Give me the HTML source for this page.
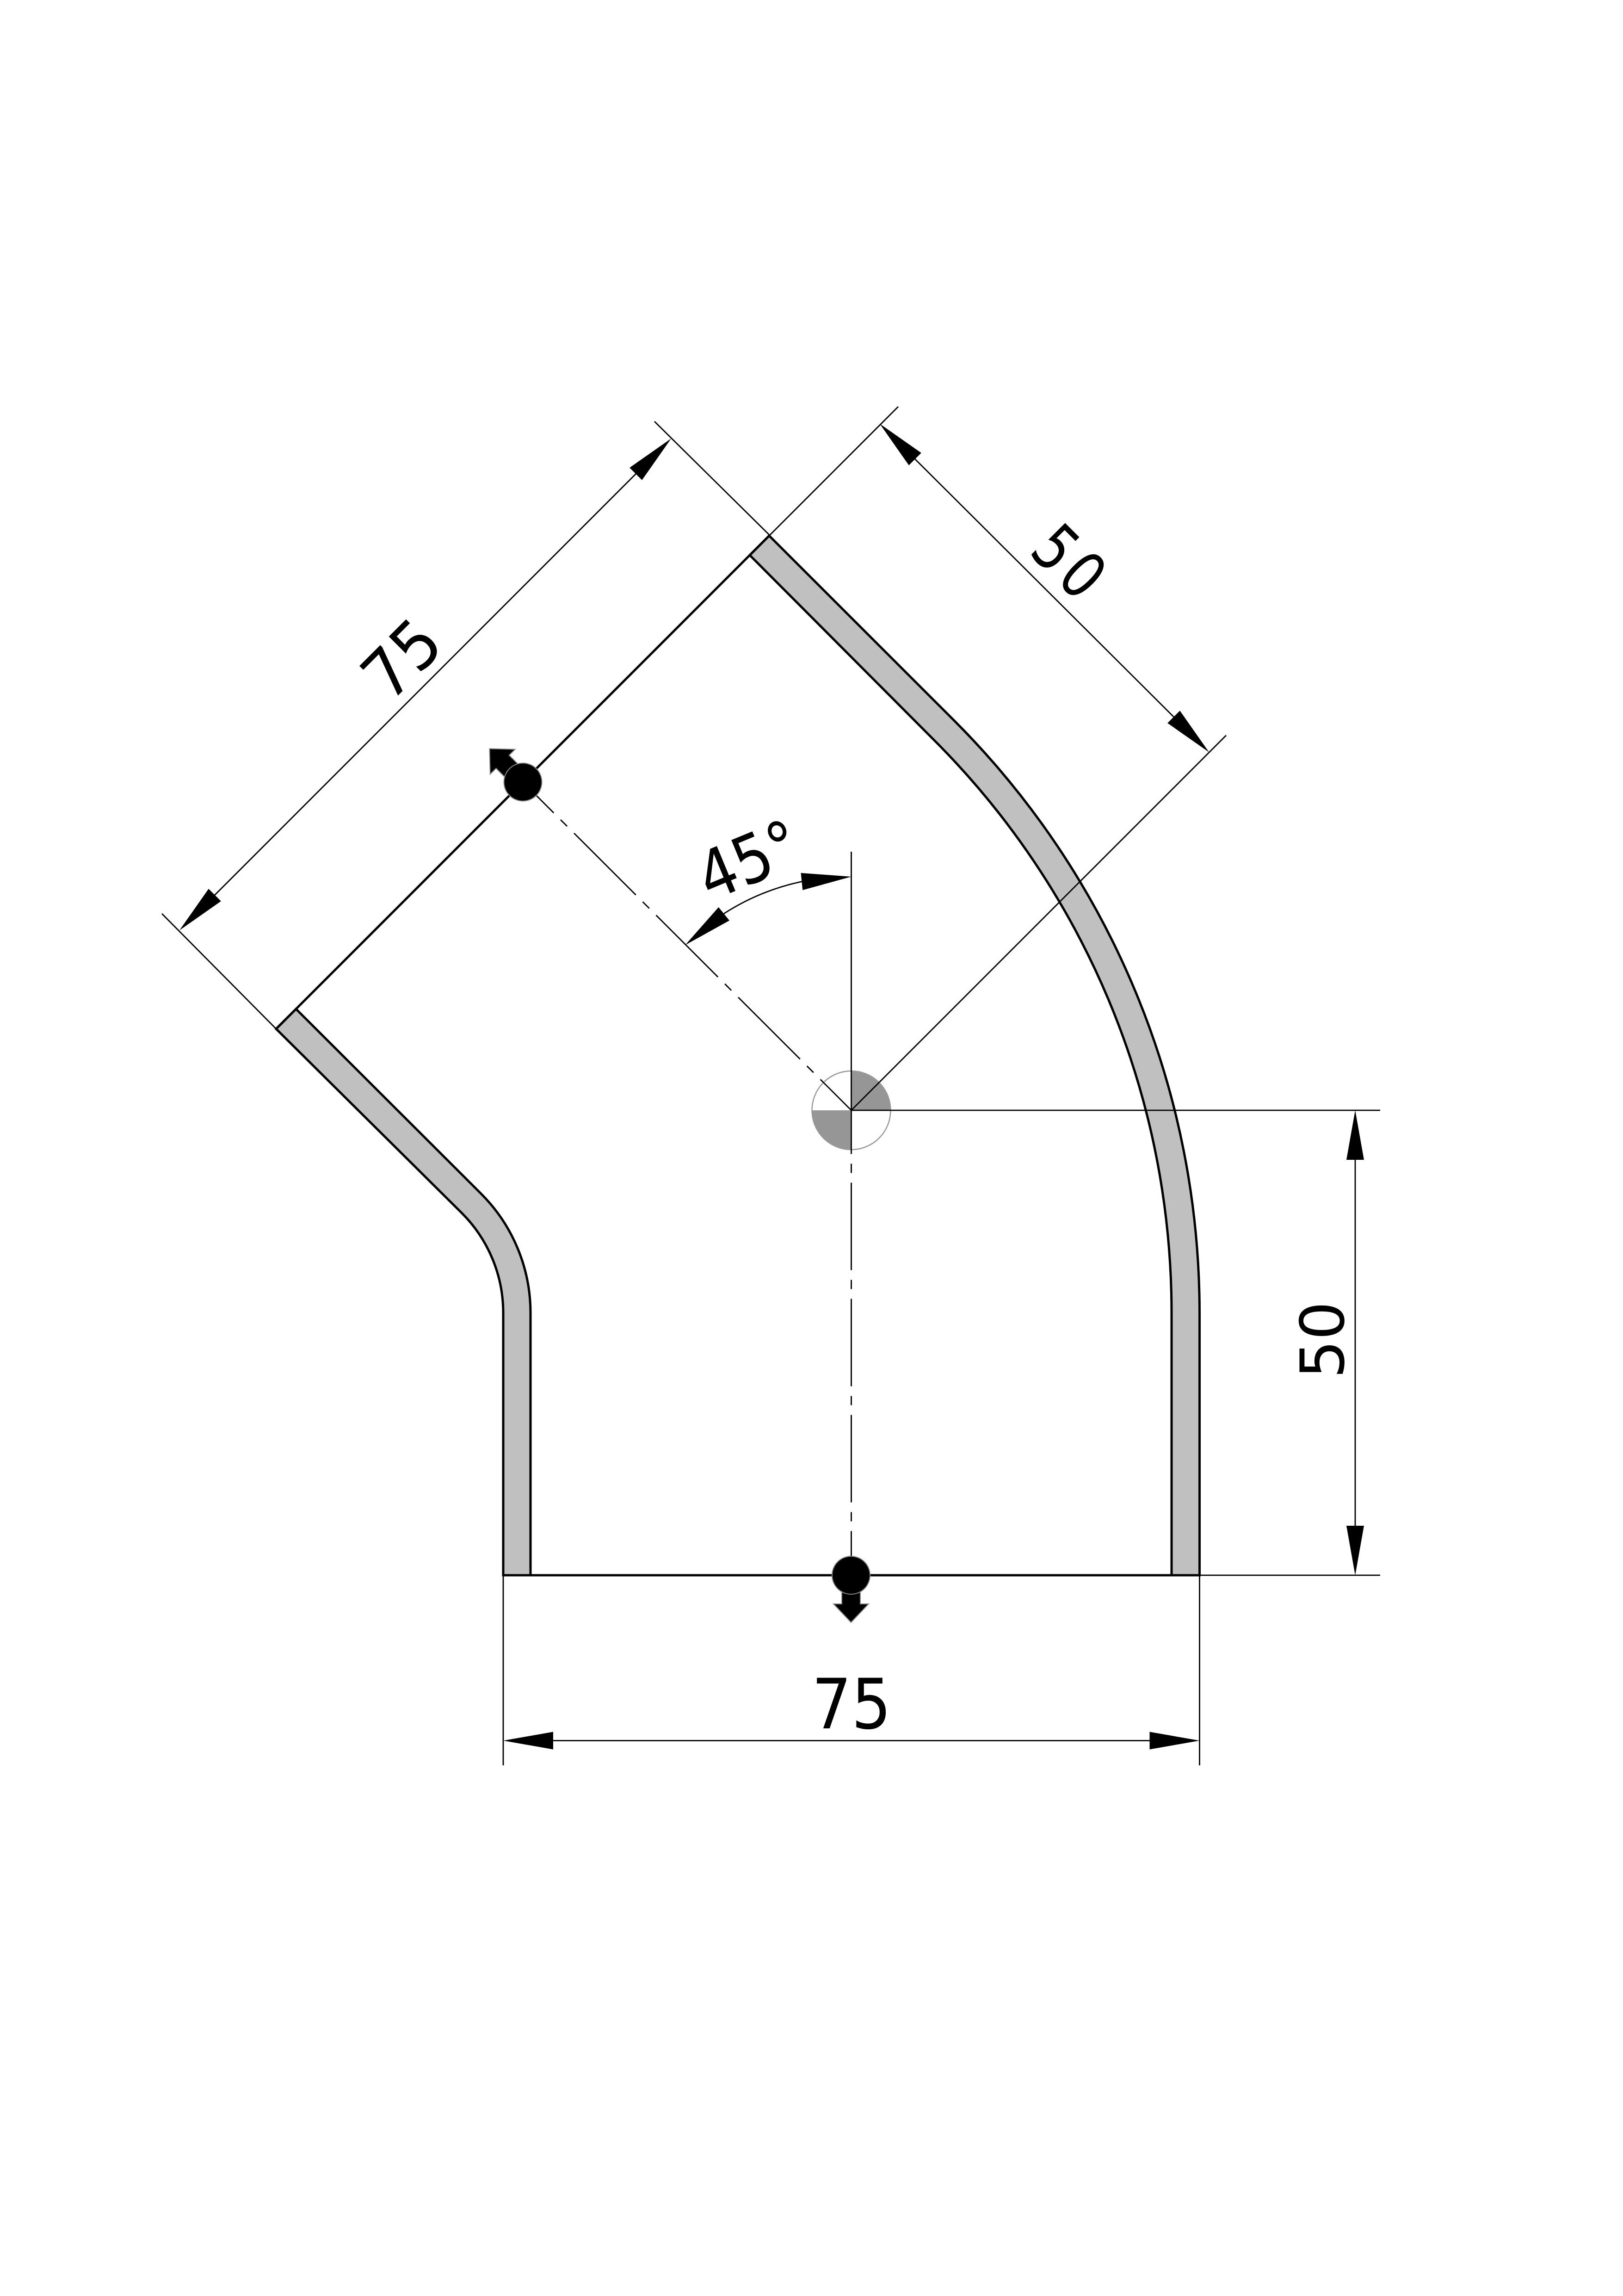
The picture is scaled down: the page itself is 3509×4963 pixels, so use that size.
<!DOCTYPE html>
<html>
<head>
<meta charset="utf-8">
<style>
html,body{margin:0;padding:0;background:#fff;width:3509px;height:4963px;overflow:hidden}
svg{display:block}
text{font-family:"DejaVu Sans","Liberation Sans",sans-serif;fill:#000;text-anchor:middle}
</style>
</head>
<body>
<svg width="3509" height="4963" viewBox="0 0 3509 4963" xmlns="http://www.w3.org/2000/svg">
<rect width="3509" height="4963" fill="#fff"/>

<!-- pipe walls -->
<g fill="#c0c0c0" stroke="#000" stroke-width="5" stroke-linejoin="miter">
<path d="M2593.5,3405 V2838 A1810.5,1810.5 0 0 0 2063.2,1557.8 L1663,1158 L1621,1200 L2020.4,1600.6 A1750,1750 0 0 1 2533,2838 V3405 Z"/>
<path d="M1147,3405 V2838 A364,364 0 0 0 1040.4,2580.6 L640,2181 L597,2224 L998.7,2622.3 A305,305 0 0 1 1088,2838 V3405 Z"/>
</g>
<g stroke="#000" stroke-width="5" fill="none">
<line x1="597" y1="2224" x2="1664" y2="1157"/>
<line x1="1086" y1="3405" x2="2596" y2="3405"/>
</g>

<!-- centre symbol -->
<path d="M1840.5,2400 V2315 A85,85 0 0 1 1925.5,2400 Z" fill="#969696"/>
<path d="M1840.5,2400 V2485 A85,85 0 0 1 1755.5,2400 Z" fill="#969696"/>
<circle cx="1840.5" cy="2400" r="85" fill="none" stroke="#999" stroke-width="2.5"/>

<!-- dimension and extension lines -->
<g stroke="#000" stroke-width="2.8" fill="none">
<line x1="1415" y1="911" x2="1664" y2="1157"/>
<line x1="350" y1="1975" x2="597" y2="2224"/>
<line x1="1375" y1="1024" x2="464" y2="1935"/>
<line x1="1942" y1="879" x2="1664" y2="1157"/>
<line x1="1840.5" y1="2400" x2="2651" y2="1589.5"/>
<line x1="1978" y1="992" x2="2538" y2="1550"/>
<line x1="1840.5" y1="2400" x2="2984" y2="2400"/>
<line x1="2593.5" y1="3405" x2="2984" y2="3405"/>
<line x1="2930" y1="2507" x2="2930" y2="3298"/>
<line x1="1088" y1="3405" x2="1088" y2="3816"/>
<line x1="2593.5" y1="3405" x2="2593.5" y2="3816"/>
<line x1="1196" y1="3762.5" x2="2485.5" y2="3762.5"/>
<line x1="1840.5" y1="1841" x2="1840.5" y2="2400"/>
<path d="M1733.4,1905.6 A505,505 0 0 0 1565,1975"/>
<line x1="1840.5" y1="2400" x2="1840.5" y2="3405" stroke-dasharray="189 21 20 21" stroke-dashoffset="94.5"/>
<line x1="1840.5" y1="2400" x2="1130.5" y2="1690.5" stroke-dasharray="189 21 20 21" stroke-dashoffset="94.5"/>
</g>

<!-- arrowheads -->
<g fill="#000">
<polygon points="1451,948 1388,1037.8 1361.2,1011"/>
<polygon points="388,2011 477.8,1948 451,1921.2"/>
<polygon points="1902,916 1991.8,979 1965,1005.8"/>
<polygon points="2614,1626 2551,1536.2 2524.2,1563"/>
<polygon points="1088,3762.5 1196,3743.5 1196,3781.5"/>
<polygon points="2593.5,3762.5 2485.5,3743.5 2485.5,3781.5"/>
<polygon points="2930,2400 2911,2507 2949,2507"/>
<polygon points="2930,3405 2911,3298 2949,3298"/>
<polygon points="1840.5,1895 1731.5,1887 1735.3,1924"/>
<polygon points="1481.5,2042.7 1553.6,1961 1577,1989.8"/>
</g>

<!-- flow marks -->
<g fill="#000" stroke="#888" stroke-width="2">
<g transform="translate(1840,3405)">
<path d="M-20,36 V62 H-38 L0,102 L38,62 H20 V36 Z"/>
<circle r="41"/>
</g>
<g transform="translate(1130.5,1690.5) rotate(135)">
<path d="M-20,36 V62 H-38 L0,102 L38,62 H20 V36 Z"/>
<circle r="41"/>
</g>
</g>

<!-- labels -->
<text transform="translate(1841,3736) scale(0.9,1)" font-size="150">75</text>
<text transform="translate(2905,2896.5) rotate(-90)" font-size="131">50</text>
<text transform="translate(904,1460) rotate(-45) scale(0.95,1)" font-size="143">75</text>
<text transform="translate(2281,1253) rotate(45) scale(0.8,1)" font-size="140" letter-spacing="15">50</text>
<text transform="translate(1638,1906) rotate(-22.5) scale(0.88,1)" font-size="144">45°</text>
</svg>
</body>
</html>
